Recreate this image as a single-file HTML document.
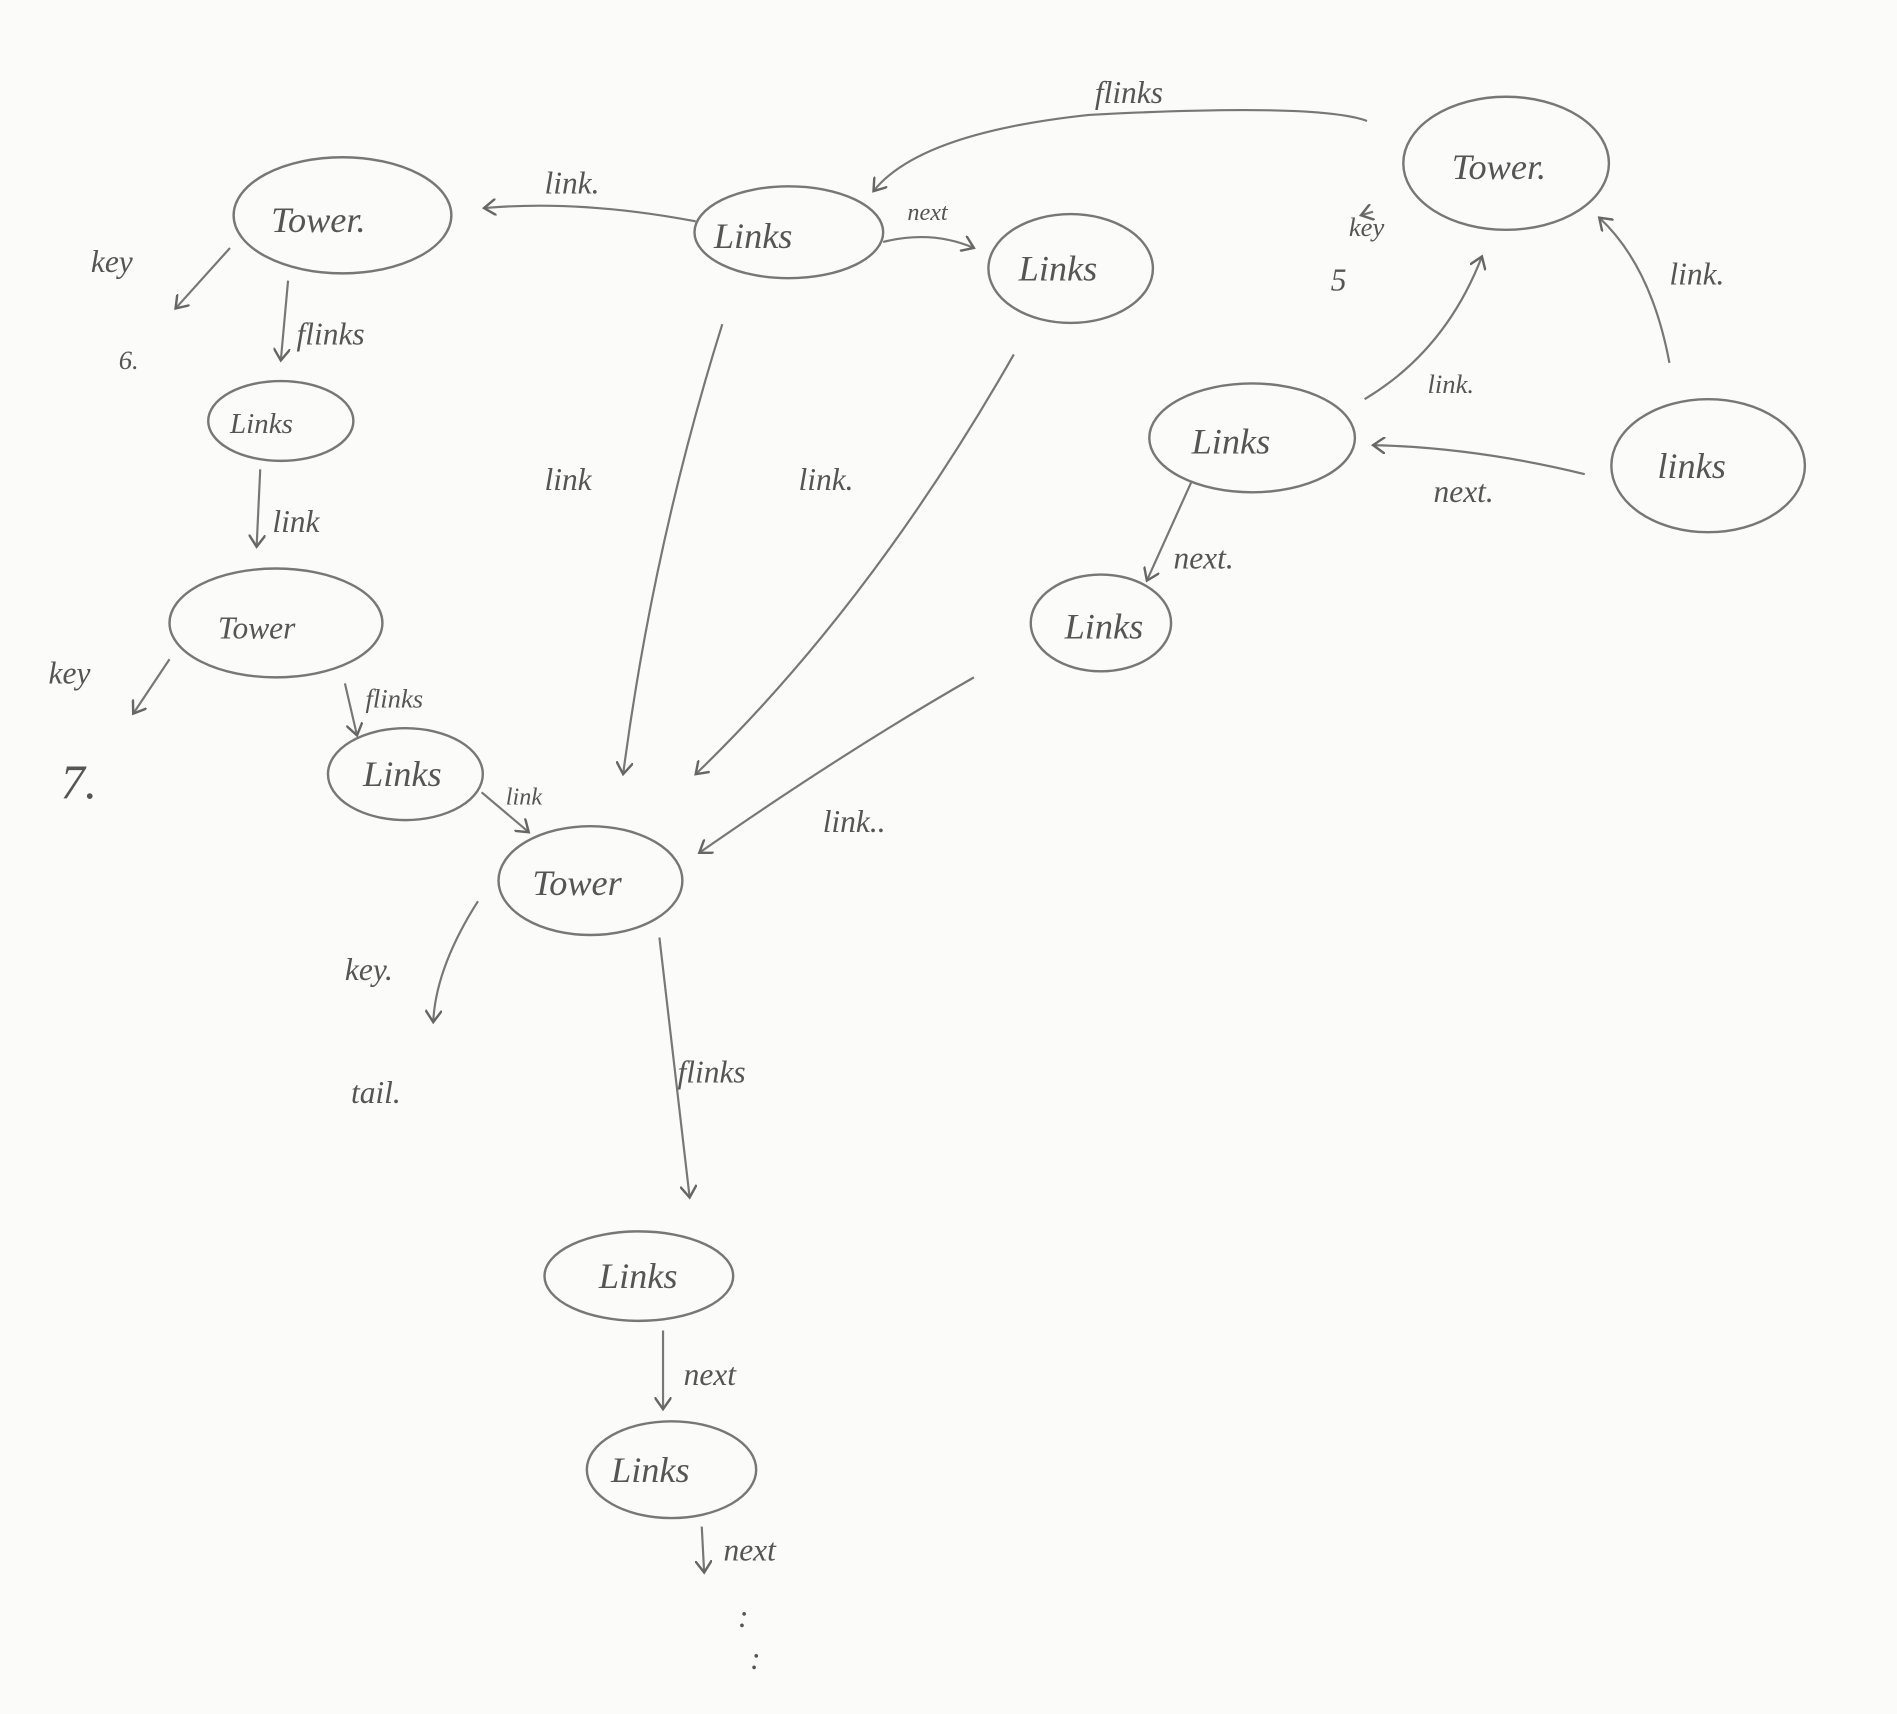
<!DOCTYPE html>
<html><head><meta charset="utf-8"><style>
html,body{margin:0;padding:0;background:#fbfbfa;}
svg{display:block}
text{font-family:"Liberation Serif",serif;font-style:italic;fill:#555;}
</style></head><body>
<svg width="1897" height="1714" viewBox="0 0 1568 1417" xmlns="http://www.w3.org/2000/svg">
<defs><marker id="a" markerWidth="14" markerHeight="14" refX="10" refY="7" orient="auto" markerUnits="userSpaceOnUse"><path d="M0,0 L10,7 L0,14" fill="none" stroke="#666" stroke-width="2"/></marker></defs>
<g fill="none" stroke="#777" stroke-width="2">
<ellipse cx="283" cy="178" rx="90" ry="48"/>
<ellipse cx="652" cy="192" rx="78" ry="38"/>
<ellipse cx="885" cy="222" rx="68" ry="45"/>
<ellipse cx="1245" cy="135" rx="85" ry="55"/>
<ellipse cx="1035" cy="362" rx="85" ry="45"/>
<ellipse cx="1412" cy="385" rx="80" ry="55"/>
<ellipse cx="910" cy="515" rx="58" ry="40"/>
<ellipse cx="232" cy="348" rx="60" ry="33"/>
<ellipse cx="228" cy="515" rx="88" ry="45"/>
<ellipse cx="335" cy="640" rx="64" ry="38"/>
<ellipse cx="488" cy="728" rx="76" ry="45"/>
<ellipse cx="528" cy="1055" rx="78" ry="37"/>
<ellipse cx="555" cy="1215" rx="70" ry="40"/>
</g>
<g fill="none" stroke="#777" stroke-width="1.8" marker-end="url(#a)">
<path d="M575,183 Q480,165 400,172"/>
<path d="M730,200 Q770,190 805,205"/>
<path d="M1130,100 Q1090,85 900,95 Q760,110 722,158"/>
<path d="M1135,175 L1125,178"/>
<path d="M190,205 L145,255"/>
<path d="M238,232 L232,298"/>
<path d="M215,388 L212,452"/>
<path d="M140,545 L110,590"/>
<path d="M285,565 L295,608"/>
<path d="M398,655 L437,688"/>
<path d="M597,268 Q540,450 515,640"/>
<path d="M838,293 Q720,500 575,640"/>
<path d="M805,560 Q700,620 578,705"/>
<path d="M395,745 Q360,800 358,845"/>
<path d="M545,775 Q560,900 570,990"/>
<path d="M985,398 L948,480"/>
<path d="M1128,330 Q1195,290 1225,212"/>
<path d="M1310,392 Q1220,370 1135,368"/>
<path d="M1380,300 Q1365,220 1322,180"/>
<path d="M548,1100 L548,1165"/>
<path d="M580,1262 L582,1300"/>
</g>
<g font-size="30">
<text x="224" y="192">Tower.</text>
<text x="590" y="205">Links</text>
<text x="842" y="232">Links</text>
<text x="1200" y="148">Tower.</text>
<text x="985" y="375">Links</text>
<text x="1370" y="395">links</text>
<text x="880" y="528">Links</text>
<text x="190" y="358" font-size="24">Links</text>
<text x="180" y="528" font-size="26">Tower</text>
<text x="300" y="650">Links</text>
<text x="440" y="740">Tower</text>
<text x="495" y="1065">Links</text>
<text x="505" y="1225">Links</text>
</g>
<g font-size="26">
<text x="905" y="85">flinks</text>
<text x="450" y="160">link.</text>
<text x="750" y="182" font-size="20">next</text>
<text x="75" y="225">key</text>
<text x="98" y="305" font-size="22">6.</text>
<text x="245" y="285">flinks</text>
<text x="225" y="440">link</text>
<text x="450" y="405">link</text>
<text x="660" y="405">link.</text>
<text x="1115" y="195" font-size="22">key</text>
<text x="1100" y="240">5</text>
<text x="1380" y="235">link.</text>
<text x="1180" y="325" font-size="22">link.</text>
<text x="1185" y="415">next.</text>
<text x="970" y="470">next.</text>
<text x="40" y="565">key</text>
<text x="50" y="660" font-size="40">7.</text>
<text x="302" y="585" font-size="22">flinks</text>
<text x="418" y="665" font-size="20">link</text>
<text x="680" y="688">link..</text>
<text x="285" y="810">key.</text>
<text x="290" y="912">tail.</text>
<text x="560" y="895">flinks</text>
<text x="565" y="1145">next</text>
<text x="598" y="1290">next</text>
<text x="610" y="1345">:</text>
<text x="620" y="1380">:</text>
</g>
</svg>
</body></html>
